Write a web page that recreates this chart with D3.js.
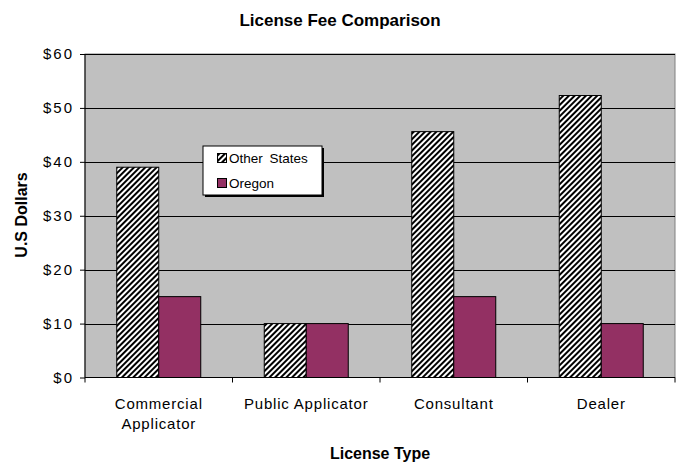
<!DOCTYPE html>
<html><head><meta charset="utf-8">
<script src="https://cdn.jsdelivr.net/npm/d3@7"></script>
<style>body{margin:0;background:#fff}svg{display:block}text{font-family:"Liberation Sans",Arial,sans-serif}</style>
</head><body><svg id="c" width="681" height="462"></svg>
<script>
const categories = [["Commercial","Applicator"],["Public Applicator"],["Consultant"],["Dealer"]];
const seriesNames = ["Other States","Oregon"];
const otherStates = [39, 10, 45.6, 52.3];
const oregon = [15, 10, 15, 10];
const yTicks = [0,10,20,30,40,50,60];

const svg = d3.select("#c");
const m = {l:85, t:54, r:675, b:377.5};
const defs = svg.append("defs");
const pat = defs.append("pattern").attr("id","hatch").attr("patternUnits","userSpaceOnUse")
  .attr("width",4).attr("height",4).attr("patternTransform","rotate(45)");
pat.append("rect").attr("width",4).attr("height",4).attr("fill","#fff");
pat.append("rect").attr("width",2).attr("height",4).attr("fill","#000");

const x0 = d3.scaleBand().domain(d3.range(categories.length)).range([m.l,m.r]);
const x1 = d3.scaleBand().domain(seriesNames).range([0,x0.bandwidth()]).paddingOuter(0.756).paddingInner(0);
const y = d3.scaleLinear().domain([0,60]).range([m.b,m.t]);

svg.append("rect").attr("x",m.l).attr("y",m.t).attr("width",m.r-m.l).attr("height",m.b-m.t)
  .attr("fill","#c0c0c0").attr("stroke","#808080").attr("stroke-width",1);

svg.append("g").selectAll("line").data(yTicks.slice(1)).join("line")
  .attr("x1",m.l).attr("x2",m.r).attr("y1",d=>Math.round(y(d))+0.5).attr("y2",d=>Math.round(y(d))+0.5)
  .attr("stroke","#000").attr("stroke-width",1);

const colors = {"Other States":"url(#hatch)","Oregon":"#933063"};
const data = categories.map((c,i)=>({i, vals:[{s:"Other States",v:otherStates[i]},{s:"Oregon",v:oregon[i]}]}));
const g = svg.append("g").selectAll("g").data(data).join("g").attr("transform",d=>`translate(${x0(d.i)},0)`);
g.selectAll("rect").data(d=>d.vals).join("rect")
  .attr("x",d=>x1(d.s)).attr("width",x1.bandwidth())
  .attr("y",d=>y(d.v)).attr("height",d=>y(0)-y(d.v))
  .attr("fill",d=>colors[d.s]).attr("stroke","#000").attr("stroke-width",1);

// axes
const ya = d3.axisLeft(y).tickValues(yTicks).tickFormat(d=>"$"+d).tickSize(5).tickPadding(6);
const yg = svg.append("g").attr("transform",`translate(${m.l},0)`).call(ya);
yg.select(".domain").attr("d",`M0,${m.t}V${m.b}`);
yg.selectAll("text").attr("font-size",15).attr("letter-spacing","2px").attr("fill","#000")
  .attr("font-family","Liberation Sans, Arial, sans-serif");

const xg = svg.append("g").attr("transform",`translate(0,${m.b})`);
xg.append("line").attr("x1",m.l).attr("x2",m.r).attr("stroke","#000");
xg.selectAll(".tk").data(d3.range(categories.length+1)).join("line")
  .attr("x1",d=>m.l+d*x0.step()).attr("x2",d=>m.l+d*x0.step()).attr("y1",0).attr("y2",5).attr("stroke","#000");
xg.selectAll(".lab").data(categories).join("text")
  .attr("text-anchor","middle").attr("font-size",15).attr("letter-spacing","0.8px").attr("fill","#000")
  .attr("transform",(d,i)=>`translate(${x0(i)+x0.bandwidth()/2},31)`)
  .selectAll("tspan").data(d=>d).join("tspan").attr("x",0).attr("dy",(d,j)=>j?20:0).text(d=>d);

// titles
svg.append("text").attr("x",340).attr("y",26).attr("text-anchor","middle")
  .attr("font-weight","bold").attr("font-size",17).text("License Fee Comparison");
svg.append("text").attr("x",380).attr("y",459).attr("text-anchor","middle")
  .attr("font-weight","bold").attr("font-size",16).text("License Type");
svg.append("text").attr("transform","translate(27,215) rotate(-90)").attr("text-anchor","middle")
  .attr("font-weight","bold").attr("font-size",16).text("U.S Dollars");

// legend
const lg = svg.append("g").attr("transform","translate(203,146)");
lg.append("rect").attr("x",2).attr("y",2).attr("width",119).attr("height",49).attr("fill","#000");
lg.append("rect").attr("x",0).attr("y",0).attr("width",119).attr("height",49).attr("fill","#fff").attr("stroke","#000");
seriesNames.forEach((s,i)=>{
  lg.append("rect").attr("x",14.5).attr("y",7.5+i*25).attr("width",9).attr("height",9)
    .attr("fill",s==="Oregon"?"#933063":"url(#hatch)").attr("stroke","#000");
  lg.append("text").attr("x",26).attr("y",16.5+i*25).attr("font-size",13.5).attr("fill","#000")
    .attr("word-spacing","3px").text(s);
});
</script></body></html>
